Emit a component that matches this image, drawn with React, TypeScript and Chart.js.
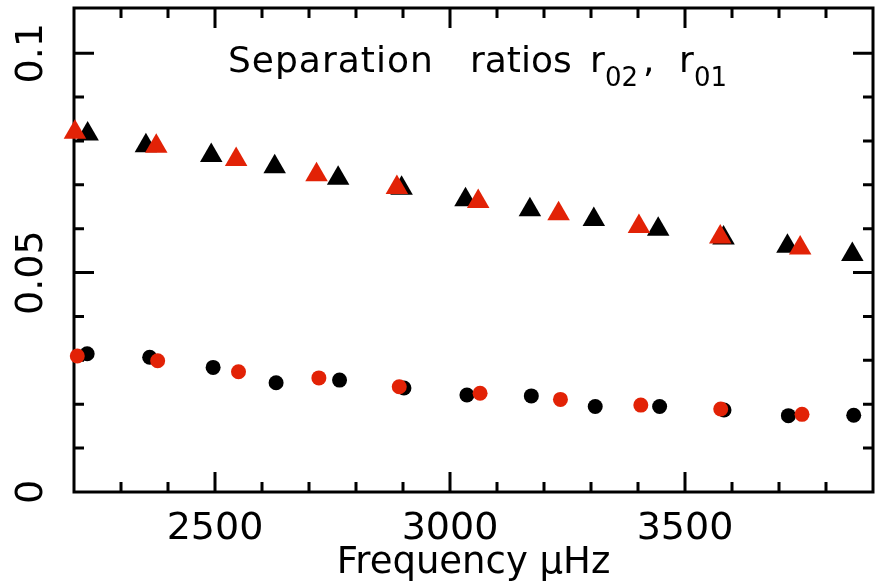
import React, { useEffect, useRef } from 'react';
import { Chart, registerables } from 'chart.js';

Chart.register(...registerables);

// r02 ratios (triangles)
const blackR02Freq = [2229, 2353, 2492, 2627, 2762, 2897, 3033, 3170, 3306, 3443, 3582, 3718, 3856];
const blackR02 = [0.0816, 0.0789, 0.0767, 0.0741, 0.0715, 0.0692, 0.0666, 0.0643, 0.0621, 0.0599, 0.0579, 0.056, 0.0541];
const redR02Freq = [2202, 2375, 2545, 2716, 2887, 3060, 3231, 3402, 3575, 3745];
const redR02 = [0.082, 0.0788, 0.0758, 0.0723, 0.0694, 0.0662, 0.0634, 0.0605, 0.0581, 0.0556];

// r01 ratios (circles)
const blackR01Freq = [2228, 2361, 2496, 2630, 2765, 2902, 3036, 3173, 3309, 3446, 3583, 3720, 3859];
const blackR01 = [0.0315, 0.0307, 0.0284, 0.0249, 0.0255, 0.0237, 0.0221, 0.0219, 0.0195, 0.0195, 0.0187, 0.0174, 0.0175];
const redR01Freq = [2207, 2378, 2550, 2721, 2892, 3064, 3235, 3406, 3576, 3749];
const redR01 = [0.031, 0.0299, 0.0274, 0.026, 0.024, 0.0225, 0.0211, 0.0198, 0.0189, 0.0177];

// axes
const xTickValues = [2200, 2300, 2400, 2500, 2600, 2700, 2800, 2900, 3000, 3100, 3200, 3300, 3400, 3500, 3600, 3700, 3800, 3900];
const xMajorTicks = [2500, 3000, 3500];
const xMajorLabels = ['2500', '3000', '3500'];
const yTickValues = [0, 0.01, 0.02, 0.03, 0.04, 0.05, 0.06, 0.07, 0.08, 0.09, 0.1];
const yMajorTicks = [0, 0.05, 0.1];
const yMajorLabels = ['0', '0.05', '0.1'];
const xTitle = 'Frequency μHz';

const RED = 'rgb(226, 34, 6)';
const BLACK = '#000000';
const FONT = 'DejaVu Sans';

const pts = (xs: number[], ys: number[]) => xs.map((x, i) => ({ x, y: ys[i] }));

const framePlugin = {
  id: 'frame',
  beforeDatasetsDraw(chart: any) {
    const { ctx, chartArea: a, scales } = chart;
    const x = scales.x;
    const y = scales.y;
    ctx.save();
    ctx.strokeStyle = '#000';
    ctx.lineWidth = 3;
    ctx.strokeRect(a.left, a.top, a.right - a.left, a.bottom - a.top);
    ctx.beginPath();
    for (const t of x.ticks) {
      const px = x.getPixelForValue(t.value);
      if (px <= a.left + 1 || px >= a.right - 1) continue;
      const len = xMajorTicks.includes(t.value) ? 20 : 10;
      ctx.moveTo(px, a.bottom);
      ctx.lineTo(px, a.bottom - len);
      ctx.moveTo(px, a.top);
      ctx.lineTo(px, a.top + len);
    }
    for (const t of y.ticks) {
      const py = y.getPixelForValue(t.value);
      if (py >= a.bottom - 1 || py <= a.top + 1) continue;
      const len = yMajorTicks.includes(t.value) ? 20 : 10;
      ctx.moveTo(a.left, py);
      ctx.lineTo(a.left + len, py);
      ctx.moveTo(a.right, py);
      ctx.lineTo(a.right - len, py);
    }
    ctx.stroke();

    // title with subscripts
    ctx.fillStyle = '#000';
    ctx.textBaseline = 'alphabetic';
    ctx.textAlign = 'left';
    ctx.font = `36px "${FONT}"`;
    try { (ctx as any).letterSpacing = '1px'; } catch (e) {}
    ctx.fillText('Separation', 228, 72);
    try { (ctx as any).letterSpacing = '0px'; } catch (e) {}
    ctx.fillText('ratios', 470, 72);
    ctx.fillText('r', 590, 72);
    ctx.fillText(',', 643, 72);
    ctx.fillText('r', 679, 72);
    ctx.font = `26px "${FONT}"`;
    ctx.fillText('02', 605, 86);
    ctx.fillText('01', 694, 86);
    ctx.restore();
  },
};

export default function App() {
  const ref = useRef<HTMLCanvasElement>(null);
  useEffect(() => {
    document.body.style.margin = '0';
    document.body.style.overflow = 'hidden';
    const chart = new Chart(ref.current as HTMLCanvasElement, {
      type: 'scatter',
      data: {
        datasets: [
          { data: pts(redR02Freq, redR02), pointStyle: 'triangle', pointRadius: 13, backgroundColor: RED, borderColor: RED, borderWidth: 0, clip: false } as any,
          { data: pts(redR01Freq, redR01), pointStyle: 'circle', pointRadius: 7.5, backgroundColor: RED, borderColor: RED, borderWidth: 0, clip: false } as any,
          { data: pts(blackR02Freq, blackR02), pointStyle: 'triangle', pointRadius: 13, backgroundColor: BLACK, borderColor: BLACK, borderWidth: 0, clip: false } as any,
          { data: pts(blackR01Freq, blackR01), pointStyle: 'circle', pointRadius: 7.5, backgroundColor: BLACK, borderColor: BLACK, borderWidth: 0, clip: false } as any,
        ],
      },
      options: {
        animation: false,
        responsive: false,
        devicePixelRatio: 1,
        events: [],
        layout: { autoPadding: false, padding: { left: 0, top: 8, right: 3, bottom: 0 } },
        plugins: { legend: { display: false }, tooltip: { enabled: false }, title: { display: false } },
        scales: {
          x: {
            type: 'linear',
            position: 'bottom',
            min: 2200,
            max: 3900,
            afterBuildTicks: (s: any) => { s.ticks = xTickValues.map((v) => ({ value: v })); },
            afterFit: (s: any) => { s.height = 94; s.paddingLeft = 0; s.paddingRight = 0; },
            grid: { display: false, drawTicks: false },
            border: { display: false },
            ticks: {
              autoSkip: false,
              maxRotation: 0,
              minRotation: 0,
              padding: 14,
              color: '#000',
              font: { family: FONT, size: 38 },
              callback: (v: any) => { const i = xMajorTicks.indexOf(Number(v)); return i >= 0 ? xMajorLabels[i] : ''; },
            },
            title: { display: true, text: xTitle, color: '#000', font: { family: FONT, size: 37 }, padding: { top: 0, bottom: 0 } },
          },
          y: {
            type: 'linear',
            min: 0,
            max: 0.1103,
            afterBuildTicks: (s: any) => { s.ticks = yTickValues.map((v) => ({ value: v })); },
            afterFit: (s: any) => { s.width = 74; s.paddingTop = 0; s.paddingBottom = 0; },
            grid: { display: false, drawTicks: false },
            border: { display: false },
            ticks: {
              autoSkip: false,
              minRotation: 90,
              maxRotation: 90,
              crossAlign: 'center',
              padding: 0,
              color: '#000',
              font: { family: FONT, size: 38 },
              callback: (v: any) => { const i = yMajorTicks.indexOf(Number(v)); return i >= 0 ? yMajorLabels[i] : ''; },
            },
          },
        },
      },
      plugins: [framePlugin],
    } as any);
    return () => chart.destroy();
  }, []);
  return (
    <div style={{ width: 876, height: 586 }}>
      <canvas ref={ref} width={876} height={586} style={{ display: 'block' }} />
    </div>
  );
}
